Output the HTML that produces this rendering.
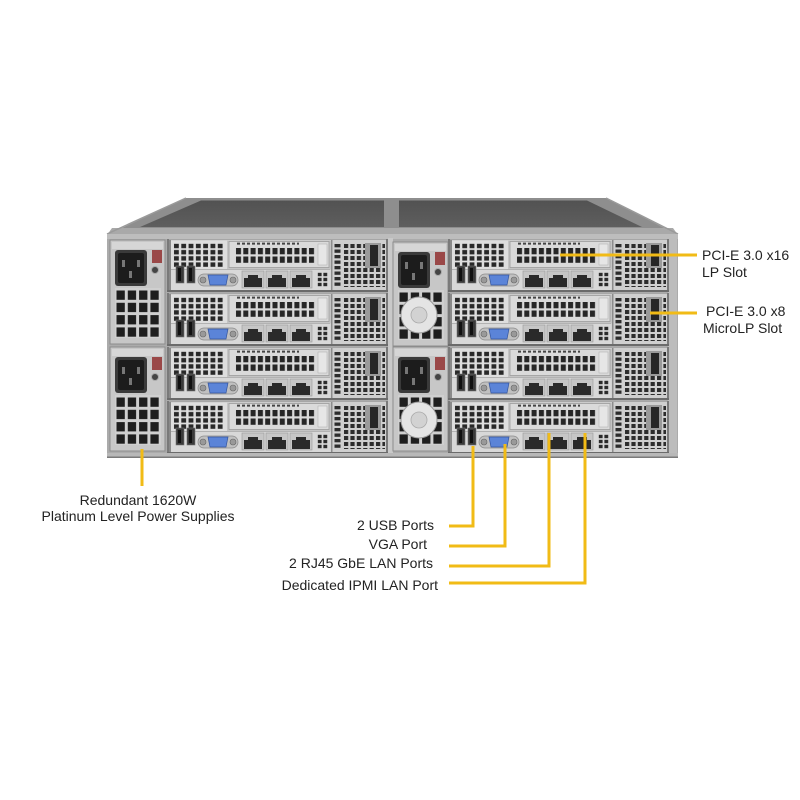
<!DOCTYPE html>
<html><head><meta charset="utf-8"><style>
html,body{margin:0;padding:0;background:#fff;}
svg{display:block;}
text{font-family:"Liberation Sans",Arial,sans-serif;font-size:14px;fill:#222;}
</style></head><body>
<svg width="800" height="800" viewBox="0 0 800 800" xmlns="http://www.w3.org/2000/svg" xmlns:xlink="http://www.w3.org/1999/xlink">
<defs>
 <linearGradient id="lidg" x1="0" y1="0" x2="0" y2="1">
  <stop offset="0" stop-color="#525252"/><stop offset="1" stop-color="#5e5e5e"/>
 </linearGradient>
 <pattern id="pg7" x="6" y="4" width="7.3" height="6.2" patternUnits="userSpaceOnUse"><rect x="1" y="0.8" width="4.8" height="4.4" fill="#282828"/></pattern>
 <pattern id="pr" x="68" y="8" width="7.3" height="8.5" patternUnits="userSpaceOnUse"><rect x="1" y="1" width="5" height="6.3" fill="#262626"/></pattern>
 <pattern id="pv" x="176" y="4" width="6.4" height="6" patternUnits="userSpaceOnUse"><rect x="1" y="1" width="4.2" height="4" fill="#2c2c2c"/></pattern>
 <pattern id="pc" x="166" y="4" width="9" height="5.5" patternUnits="userSpaceOnUse"><rect x="1.5" y="1" width="6" height="3.3" fill="#2c2c2c"/></pattern>
 <pattern id="ps" x="150" y="33" width="5.6" height="5" patternUnits="userSpaceOnUse"><rect x="0.8" y="0.8" width="3.8" height="3.4" fill="#2a2a2a"/></pattern>
 <pattern id="pf" x="5" y="49" width="11.3" height="12.3" patternUnits="userSpaceOnUse"><rect x="1.5" y="1.5" width="8.3" height="9.3" fill="#1e1e1e"/></pattern>

 <g id="tray">
  <rect x="0" y="0" width="221" height="53" fill="#7a7a7a"/>
  <rect x="2" y="0.5" width="217" height="51" fill="#d3d3d3"/>
  <rect x="2" y="1" width="2" height="50" fill="#8a8a8a"/>
  <rect x="4" y="2" width="56" height="28" fill="#dedede"/>
  <rect x="6" y="4" width="51" height="24" fill="url(#pg7)"/>
  <rect x="60" y="1.5" width="104" height="29" fill="#c4c4c4"/>
  <rect x="62" y="2.5" width="100" height="26" fill="#dadada" stroke="#9c9c9c" stroke-width="0.8"/>
  <line x1="70" y1="4.6" x2="132" y2="4.6" stroke="#444" stroke-width="2" stroke-dasharray="3 2"/>
  <rect x="68" y="8" width="80" height="17" fill="url(#pr)"/>
  <rect x="151" y="5" width="9" height="21" fill="#e6e6e6" stroke="#aaa" stroke-width="0.5"/>
  <rect x="4" y="30" width="159" height="21" fill="#d8d8d8"/>
  <rect x="4" y="30" width="159" height="0.8" fill="#a8a8a8"/>
  <rect x="9" y="27" width="8" height="17" fill="#3a3a3a" stroke="#777" stroke-width="0.6"/>
  <rect x="11" y="29" width="3" height="13" fill="#111"/>
  <rect x="20" y="27" width="8" height="17" fill="#3a3a3a" stroke="#777" stroke-width="0.6"/>
  <rect x="22" y="29" width="3" height="13" fill="#111"/>
  <rect x="31" y="35" width="40" height="12" rx="6" fill="#c0c0c0" stroke="#8a8a8a" stroke-width="0.7"/>
  <circle cx="36" cy="41" r="3" fill="#999" stroke="#666" stroke-width="0.6"/>
  <circle cx="66" cy="41" r="3" fill="#999" stroke="#666" stroke-width="0.6"/>
  <path d="M41 36 H61 L59 46 H43 Z" fill="#5b84d8" stroke="#34559e" stroke-width="0.7"/>
  <rect x="75" y="32" width="22" height="17" fill="#c6c6c6" stroke="#999" stroke-width="0.6"/>
  <path d="M77 48 V39 H81 V36 H91 V39 H95 V48 Z" fill="#2a2a2a"/>
  <rect x="99" y="32" width="22" height="17" fill="#c6c6c6" stroke="#999" stroke-width="0.6"/>
  <path d="M101 48 V39 H105 V36 H115 V39 H119 V48 Z" fill="#2a2a2a"/>
  <rect x="123" y="32" width="22" height="17" fill="#c6c6c6" stroke="#999" stroke-width="0.6"/>
  <path d="M125 48 V39 H129 V36 H139 V39 H143 V48 Z" fill="#2a2a2a"/>
  <rect x="150" y="33" width="11" height="15" fill="url(#ps)"/>
  <rect x="164" y="1" width="55" height="50" fill="#cfcfcf"/>
  <rect x="164" y="1" width="1.5" height="50" fill="#8c8c8c"/>
  <rect x="166" y="4" width="9" height="44" fill="url(#pc)"/>
  <rect x="176" y="4" width="42" height="44" fill="url(#pv)"/>
  <rect x="198" y="4" width="16" height="25" fill="#9a9a9a"/>
  <rect x="203" y="6" width="8" height="21" fill="#262626"/>
  <rect x="0" y="51" width="221" height="2" fill="#6b6b6b"/>
 </g>

 <g id="psuL">
  <rect x="0" y="0" width="55" height="104" fill="#c7c7c7" stroke="#8c8c8c" stroke-width="1"/>
  <rect x="2" y="2" width="51" height="7" fill="#d6d6d6"/>
  <rect x="5" y="10" width="32" height="36" rx="3" fill="#3a3a3a"/>
  <rect x="8" y="13" width="26" height="30" rx="2" fill="#1c1c1c"/>
  <rect x="12" y="20" width="3" height="7" fill="#777"/>
  <rect x="27" y="20" width="3" height="7" fill="#777"/>
  <rect x="19" y="31" width="3" height="7" fill="#777"/>
  <rect x="42" y="10" width="10" height="13" fill="#9a4848"/>
  <circle cx="45" cy="30" r="3.5" fill="#444" stroke="#aaa" stroke-width="1"/>
  <rect x="5" y="48" width="46" height="50" fill="#cfcfcf"/>
  <rect x="5" y="48" width="46" height="50" fill="url(#pf)"/>
 </g>
 <g id="psuR">
  <use xlink:href="#psuL"/>
  <circle cx="26" cy="73" r="18" fill="#e4e4e4" stroke="#999" stroke-width="1"/>
  <circle cx="26" cy="73" r="8" fill="#d2d2d2" stroke="#aaa" stroke-width="0.8"/>
 </g>
</defs>

<!-- lid -->
<polygon points="186,198 606,198 678,235 107,235" fill="#8e8e8e"/>
<polygon points="201,200.5 384,200.5 384,227 140,227" fill="url(#lidg)"/>
<polygon points="399,200.5 587,200.5 642,227 399,227" fill="url(#lidg)"/>
<polygon points="112,228 673,228 678,235 107,235" fill="#a9a9a9"/>
<line x1="186" y1="198" x2="107" y2="234" stroke="#9a9a9a" stroke-width="1.5"/>
<line x1="606" y1="198" x2="678" y2="234" stroke="#9a9a9a" stroke-width="1.5"/>

<!-- chassis front -->
<rect x="107" y="234" width="571" height="224" fill="#ababab"/>
<rect x="107" y="234" width="571" height="5" fill="#bdbdbd"/>
<rect x="388" y="238" width="5" height="216" fill="#c9c9c9"/>
<rect x="668" y="238" width="9" height="216" fill="#bcbcbc"/>

<use xlink:href="#psuL" x="110" y="240"/>
<use xlink:href="#psuL" x="110" y="347"/>
<use xlink:href="#psuR" x="393" y="242"/>
<use xlink:href="#psuR" x="393" y="347"/>

<use xlink:href="#tray" x="167" y="239"/>
<use xlink:href="#tray" x="167" y="293"/>
<use xlink:href="#tray" x="167" y="347"/>
<use xlink:href="#tray" x="167" y="401"/>
<use xlink:href="#tray" x="448" y="239"/>
<use xlink:href="#tray" x="448" y="293"/>
<use xlink:href="#tray" x="448" y="347"/>
<use xlink:href="#tray" x="448" y="401"/>

<rect x="107" y="453" width="571" height="5" fill="#b8b8b8"/>
<rect x="107" y="456.5" width="571" height="1.5" fill="#7a7a7a"/>

<!-- leader lines -->
<g fill="none" stroke="#F1BB16" stroke-width="3">
 <path d="M142 449 V486"/>
 <path d="M560 255 H697"/>
 <path d="M650 313 H697"/>
 <path d="M473 446 V526 H449"/>
 <path d="M505 444 V546 H449"/>
 <path d="M549 433 V566 H449"/>
 <path d="M585 433 V583 H449"/>
</g>

<!-- labels -->
<text x="138" y="505" text-anchor="middle">Redundant 1620W</text>
<text x="138" y="521" text-anchor="middle">Platinum Level Power Supplies</text>
<text x="434" y="530" text-anchor="end">2 USB Ports</text>
<text x="427" y="549" text-anchor="end">VGA Port</text>
<text x="433" y="568" text-anchor="end">2 RJ45 GbE LAN Ports</text>
<text x="438" y="590" text-anchor="end">Dedicated IPMI LAN Port</text>
<text x="702" y="260">PCI-E 3.0 x16</text>
<text x="702" y="277">LP Slot</text>
<text x="706" y="316">PCI-E 3.0 x8</text>
<text x="703" y="333">MicroLP Slot</text>
</svg>
</body></html>
